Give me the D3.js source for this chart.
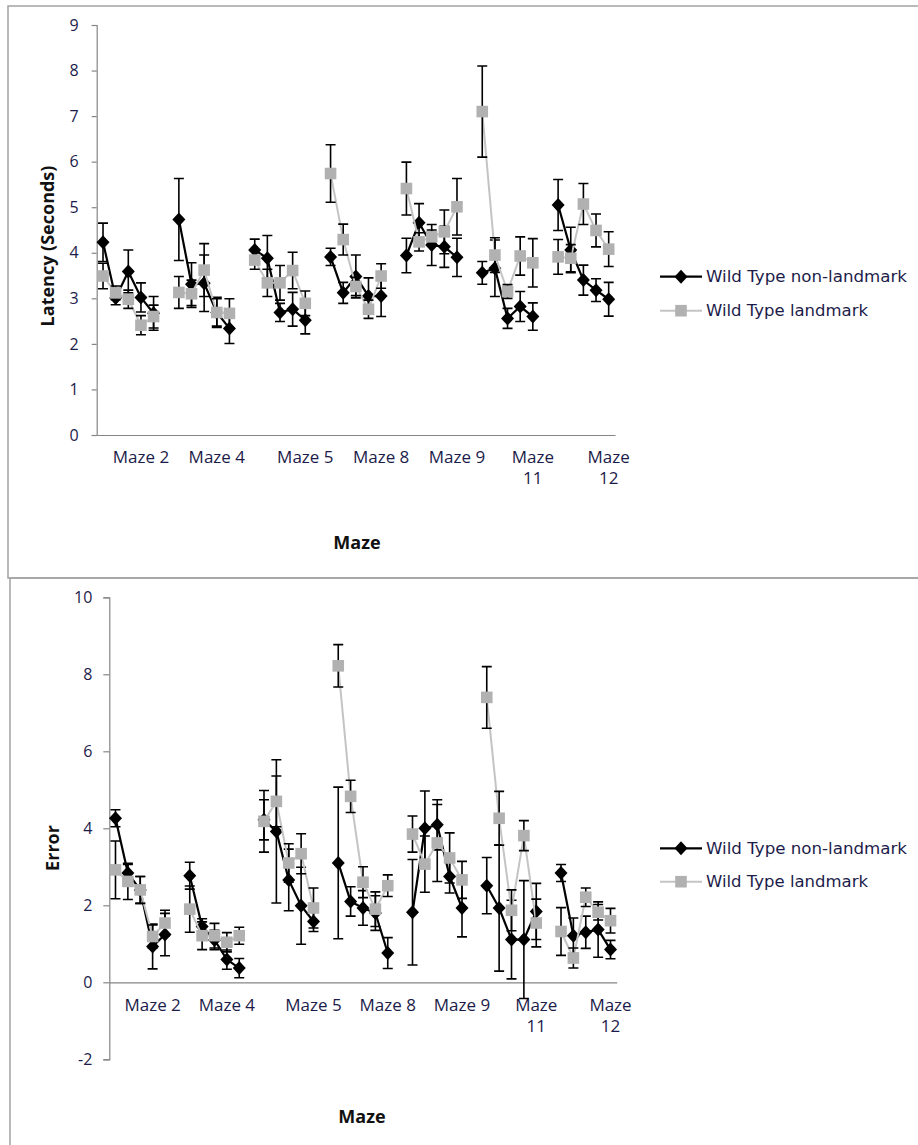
<!DOCTYPE html>
<html>
<head>
<meta charset="utf-8">
<script src="https://cdn.jsdelivr.net/npm/d3@7"></script>
<style>
  html, body { margin: 0; padding: 0; background: #fff; }
  svg { display: block; }
</style>
</head>
<body>
<svg id="chart" width="918" height="1145"></svg>
<script>
// ---------- DATA ----------
const categoryLabels = ["", "", "", "Maze 2", "", "", "", "", "", "Maze 4", "", "",
  "", "", "", "", "Maze 5", "", "", "", "", "", "Maze 8", "",
  "", "", "", "", "Maze 9", "", "", "", "", "", "Maze|11", "",
  "", "", "", "", "Maze|12"];

const seriesNames = ["Wild Type non-landmark", "Wild Type landmark"];

// Latency (Seconds)
const latencyNonLandmark = [4.23,3.01,3.59,3.02,2.67,null, 4.73,3.31,3.33,2.69,2.34,null, 4.06,3.88,2.69,2.76,2.52,null, 3.91,3.12,3.48,3.05,3.05,null, 3.94,4.66,4.17,4.13,3.90,null, 3.56,3.66,2.56,2.82,2.60,null, 5.05,4.06,3.40,3.18,2.98];
const latencyNonLandmarkErr = [0.42,0.15,0.47,0.32,0.37,null, 0.90,0.47,0.62,0.33,0.33,null, 0.24,0.50,0.20,0.37,0.30,null, 0.19,0.23,0.47,0.40,0.45,null, 0.38,0.42,0.45,0.45,0.42,null, 0.25,0.62,0.22,0.33,0.30,null, 0.56,0.50,0.33,0.25,0.37];
const latencyLandmark = [3.49,3.12,2.98,2.41,2.60,null, 3.13,3.10,3.62,2.69,2.67,null, 3.84,3.34,3.34,3.61,2.89,null, 5.74,4.29,3.26,2.76,3.49,null, 5.41,4.24,4.35,4.46,5.01,null, 7.10,3.95,3.15,3.93,3.78,null, 3.91,3.88,5.07,4.49,4.08];
const latencyLandmarkErr = [0.28,0.15,0.20,0.21,0.25,null, 0.35,0.30,0.58,0.30,0.32,null, 0.20,0.30,0.38,0.40,0.27,null, 0.63,0.34,0.20,0.20,0.27,null, 0.58,0.20,0.15,0.48,0.62,null, 1.00,0.38,0.15,0.42,0.53,null, 0.38,0.30,0.45,0.36,0.38];
const latencyTicks = [0,1,2,3,4,5,6,7,8,9];

// Error
const errorNonLandmark = [4.26,2.84,2.40,0.93,1.24,null, 2.77,1.45,1.10,0.59,0.37,null, 4.22,3.92,2.66,1.99,1.58,null, 3.10,2.10,1.93,1.80,0.76,null, 1.82,4.00,4.09,2.75,1.93,null, 2.51,1.93,1.11,1.11,1.84,null, 2.84,1.21,1.30,1.37,0.85];
const errorNonLandmarkErr = [0.22,0.22,0.35,0.58,0.55,null, 0.35,0.20,0.25,0.25,0.25,null, 0.52,1.86,0.80,1.00,0.26,null, 1.97,0.38,0.45,0.45,0.40,null, 1.37,0.97,0.65,0.43,0.75,null, 0.73,1.64,1.02,1.53,0.73,null, 0.22,0.46,0.42,0.72,0.24];
const errorLandmark = [2.92,2.62,2.40,1.19,1.54,null, 1.90,1.21,1.21,1.04,1.21,null, 4.18,4.70,3.10,3.34,1.93,null, 8.22,4.83,2.60,1.90,2.51,null, 3.85,3.07,3.62,3.23,2.66,null, 7.40,4.26,1.87,3.81,1.54,null, 1.32,0.63,2.21,1.82,1.60];
const errorLandmarkErr = [0.75,0.47,0.35,0.30,0.33,null, 0.60,0.36,0.32,0.25,0.22,null, 0.80,0.66,0.50,0.52,0.52,null, 0.55,0.42,0.40,0.45,0.28,null, 0.47,0.73,1.00,0.65,0.48,null, 0.80,0.70,0.53,0.39,0.62,null, 0.62,0.26,0.24,0.20,0.32];
const errorTicks = [-2,0,2,4,6,8,10];

// ---------- DRAWING ----------
const svg = d3.select("#chart");
const TXT = "#1c1c4a";
const AXIS = "#868686";
const GRAYM = "#b1b1b1";
const GRAYL = "#c4c4c4";

// panel frames
svg.append("path").attr("d", "M918,6 H8 V578 H918")
  .attr("fill", "none").attr("stroke", "#a3a3a3").attr("stroke-width", 1.5);
svg.append("path").attr("d", "M918,578 H10 V1145")
  .attr("fill", "none").attr("stroke", "#a3a3a3").attr("stroke-width", 1.5);

const diamond = "M0,-7L6.5,0L0,7L-6.5,0Z";
const square = "M-5.8,-5.8H5.8V5.8H-5.8Z";

function drawPanel(cfg) {
  const idx = d3.range(categoryLabels.length);
  const x = d3.scaleBand().domain(idx).range([cfg.x0, cfg.x1]).padding(0);
  const y = d3.scaleLinear().domain(cfg.domain).range([cfg.yb, cfg.yt]);
  const cx = i => x(i) + x.bandwidth() / 2;
  const g = svg.append("g");

  // y axis
  const ya = g.append("g").attr("transform", `translate(${cfg.x0},0)`)
    .call(d3.axisLeft(y).tickValues(cfg.ticks).tickSize(cfg.tickSize).tickPadding(cfg.tickPad).tickFormat(d => String(d)));
  ya.select(".domain").attr("stroke", AXIS).attr("stroke-width", 1.2);
  ya.selectAll(".tick line").attr("stroke", AXIS).attr("stroke-width", 1.2);
  ya.selectAll(".tick text").attr("fill", TXT).attr("font-family", "'Open Sans', sans-serif")
    .attr("font-size", 16).attr("font-weight", 500);

  // x axis at zero line
  const xa = g.append("g").attr("transform", `translate(0,${y(0)})`)
    .call(d3.axisBottom(x).tickValues(idx.filter(i => categoryLabels[i] !== "")).tickSize(0).tickFormat(""));
  xa.select(".domain").attr("stroke", AXIS).attr("stroke-width", 1.2);
  xa.selectAll(".tick text").remove();
  xa.selectAll(".tick").each(function(i) {
    const parts = categoryLabels[i].split("|");
    const t = d3.select(this).append("text")
      .attr("fill", TXT).attr("font-family", "'Open Sans', sans-serif")
      .attr("font-size", 17).attr("text-anchor", "middle");
    parts.forEach((p, k) => {
      t.append("tspan").attr("x", 0).attr("y", cfg.labelY - y(0) + k * 21).text(p);
    });
  });

  // axis titles
  g.append("text").attr("x", cfg.xTitle[0]).attr("y", cfg.xTitle[1])
    .attr("text-anchor", "middle").attr("font-family", "'Open Sans', sans-serif")
    .attr("font-weight", "bold").attr("font-size", 18).attr("fill", "#111")
    .text("Maze");
  g.append("text").attr("transform", `translate(${cfg.yTitle[0]},${cfg.yTitle[1]}) rotate(-90)`)
    .attr("text-anchor", "middle").attr("dominant-baseline", "central")
    .attr("font-family", "'Open Sans', sans-serif")
    .attr("font-weight", "bold").attr("font-size", 18).attr("fill", "#111")
    .text(cfg.yLabel);

  const series = [
    { vals: cfg.s1, errs: cfg.e1, line: "#000", lw: 2.2, fill: "#000", shape: diamond },
    { vals: cfg.s2, errs: cfg.e2, line: GRAYL, lw: 2, fill: GRAYM, shape: square }
  ];

  series.forEach(s => {
    const pts = idx.map(i => ({ i, v: s.vals[i], e: s.errs[i] }));
    const line = d3.line().defined(d => d.v != null).x(d => cx(d.i)).y(d => y(d.v));
    g.append("path").datum(pts).attr("d", line)
      .attr("fill", "none").attr("stroke", s.line).attr("stroke-width", s.lw);
    const valid = pts.filter(d => d.v != null);
    const eb = g.append("g").attr("stroke", "#000").attr("stroke-width", 1.6).attr("fill", "none");
    eb.selectAll("path").data(valid).join("path")
      .attr("d", d => {
        const xx = cx(d.i), yt = y(d.v + d.e), ybm = y(d.v - d.e);
        return `M${xx},${yt}V${ybm}M${xx - 5},${yt}H${xx + 5}M${xx - 5},${ybm}H${xx + 5}`;
      });
    g.append("g").selectAll("path").data(valid).join("path")
      .attr("d", s.shape).attr("fill", s.fill)
      .attr("transform", d => `translate(${cx(d.i)},${y(d.v)})`);
  });

  // legend
  const lg = g.append("g");
  series.forEach((s, k) => {
    const yy = cfg.legendY[k];
    lg.append("line").attr("x1", 660).attr("x2", 702).attr("y1", yy).attr("y2", yy)
      .attr("stroke", s.line).attr("stroke-width", s.lw);
    lg.append("path").attr("d", s.shape).attr("fill", s.fill)
      .attr("transform", `translate(681,${yy})`);
    lg.append("text").attr("x", 706).attr("y", yy).attr("dy", "0.35em")
      .attr("font-family", "'DejaVu Sans', sans-serif").attr("font-size", 16)
      .attr("fill", TXT)
      .attr("textLength", k === 0 ? 201 : 162).attr("lengthAdjust", "spacingAndGlyphs")
      .text(seriesNames[k]);
  });
}

drawPanel({
  x0: 96.7, x1: 615, yb: 435, yt: 25, domain: [0, 9], ticks: latencyTicks,
  tickSize: 5, tickPad: 13,
  s1: latencyNonLandmark, e1: latencyNonLandmarkErr,
  s2: latencyLandmark, e2: latencyLandmarkErr,
  labelY: 463, xTitle: [357, 549], yTitle: [47, 246], yLabel: "Latency (Seconds)",
  legendY: [276.7, 310.7]
});

drawPanel({
  x0: 109.3, x1: 616.7, yb: 1059.3, yt: 597.3, domain: [-2, 10], ticks: errorTicks,
  tickSize: 6, tickPad: 11,
  s1: errorNonLandmark, e1: errorNonLandmarkErr,
  s2: errorLandmark, e2: errorLandmarkErr,
  labelY: 1011, xTitle: [362, 1123], yTitle: [52, 848], yLabel: "Error",
  legendY: [848.3, 881.7]
});
</script>
</body>
</html>
